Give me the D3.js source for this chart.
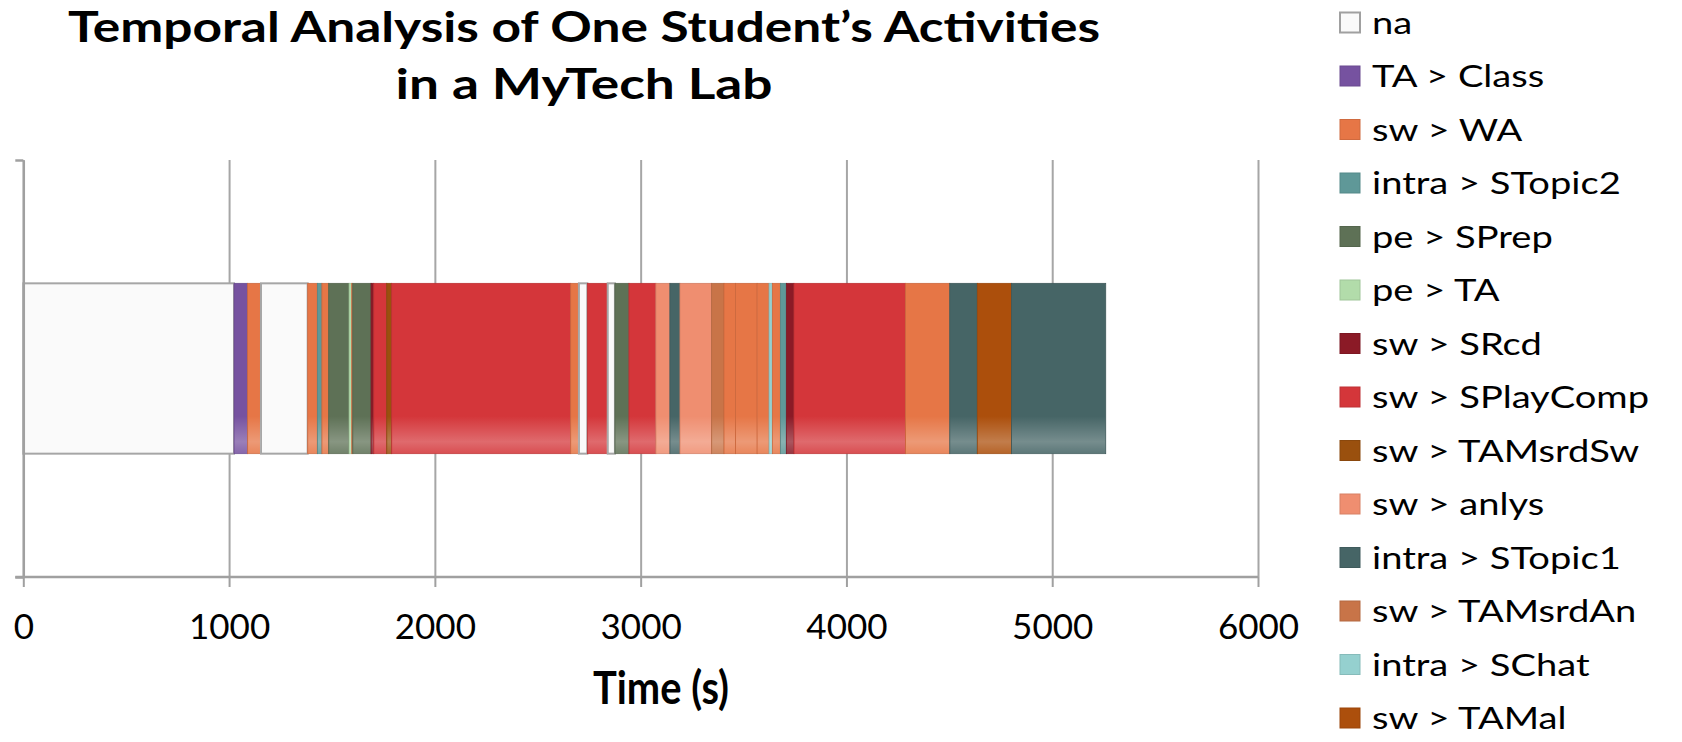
<!DOCTYPE html>
<meta charset="utf-8">
<style>
body { margin: 0; background: #fff; font-family: "Lato", "Open Sans", sans-serif; }
svg text { fill: #000; }
</style>
<body>
<script src="https://cdn.jsdelivr.net/npm/d3@7"></script>
<script>

// activities in the order they happened, with duration in seconds
var segActivity = ["na", "TA > Class", "sw > WA", "na", "sw > WA", "intra > STopic2", "sw > WA",
  "pe > SPrep", "pe > TA", "sw > WA", "pe > SPrep", "sw > SRcd", "sw > SPlayComp", "sw > TAMsrdSw",
  "sw > SPlayComp", "sw > WA", "na", "sw > SPlayComp", "na", "pe > SPrep", "sw > SPlayComp",
  "sw > anlys", "intra > STopic1", "sw > anlys", "sw > TAMsrdAn", "sw > WA", "sw > WA", "sw > WA",
  "intra > SChat", "sw > WA", "intra > STopic2", "sw > SRcd", "sw > SPlayComp", "sw > WA",
  "intra > STopic1", "sw > TAMal", "intra > STopic1"];
var segDuration = [1024, 66, 65, 227, 47, 22, 33,
  99, 13, 5, 89, 13, 63, 24,
  870, 40, 41, 99, 35, 68, 131,
  68, 49, 154, 60, 56, 105, 58,
  16, 39, 29, 37, 542, 215,
  134, 166, 458];

// legend entries and colours
var legendNames = ["na", "TA > Class", "sw > WA", "intra > STopic2", "pe > SPrep", "pe > TA", "sw > SRcd",
  "sw > SPlayComp", "sw > TAMsrdSw", "sw > anlys", "intra > STopic1", "sw > TAMsrdAn", "intra > SChat", "sw > TAMal"];
var legendColors = ["#fafafa", "#7652a0", "#e67646", "#5f9898", "#5e7156", "#b2dcaa", "#8b1a26",
  "#d4363a", "#9a500e", "#ef8e70", "#466566", "#c87448", "#95d0cf", "#ac4f0c"];

var xTicks = [0, 1000, 2000, 3000, 4000, 5000, 6000];

var W = 1682, H = 742;
var svg = d3.select("body").append("svg").attr("width", W).attr("height", H);

var color = d3.scaleOrdinal().domain(legendNames).range(legendColors);

var x = d3.scaleLinear().domain([0, 6000]).range([23.3, 1258]);
var y = d3.scaleBand().domain(["student"]).range([160, 577]).padding(0.42);
var yEdge = d3.scaleLinear().domain([0, 1]).range([577, 160]);

// gloss gradient
var defs = svg.append("defs");
var grad = defs.append("linearGradient").attr("id", "gloss")
  .attr("x1", 0).attr("y1", 0).attr("x2", 0).attr("y2", 1);
grad.append("stop").attr("offset", "0.78").attr("stop-color", "#fff").attr("stop-opacity", 0);
grad.append("stop").attr("offset", "0.93").attr("stop-color", "#fff").attr("stop-opacity", 0.26);
grad.append("stop").attr("offset", "1").attr("stop-color", "#fff").attr("stop-opacity", 0.12);

// gridlines
svg.append("g")
  .attr("transform", "translate(0,577)")
  .call(d3.axisBottom(x).tickValues(xTicks).tickSize(-(577 - 160)).tickFormat(""))
  .call(function (g) {
    g.select(".domain").remove();
    g.selectAll("line").attr("stroke", "#a6a6a6").attr("stroke-width", 2);
  });

// bar segments
var starts = [0].concat(Array.from(d3.cumsum(segDuration))).slice(0, segDuration.length);
var segs = segActivity.map(function (a, i) {
  return { act: a, start: starts[i], end: starts[i] + segDuration[i] };
});

var bar = svg.append("g");
bar.selectAll("rect.seg")
  .data(segs)
  .enter().append("rect")
  .attr("class", "seg")
  .attr("x", function (d) { return x(d.start); })
  .attr("y", y("student"))
  .attr("width", function (d) { return x(d.end) - x(d.start); })
  .attr("height", y.bandwidth())
  .attr("fill", function (d) { return color(d.act); })
  .attr("stroke", function (d) { return d.act == "na" ? "#a6a6a6" : d3.color(color(d.act)).darker(0.35); })
  .attr("stroke-width", function (d) { return d.act == "na" ? 2 : 0.8; });

bar.selectAll("rect.gl")
  .data(segs.filter(function (d) { return d.act != "na"; }))
  .enter().append("rect")
  .attr("class", "gl")
  .attr("x", function (d) { return x(d.start) + 0.5; })
  .attr("y", y("student"))
  .attr("width", function (d) { return Math.max(0, x(d.end) - x(d.start) - 1); })
  .attr("height", y.bandwidth())
  .attr("fill", "url(#gloss)");

// y axis (category edges)
svg.append("g")
  .attr("transform", "translate(" + x(0) + ",0)")
  .call(d3.axisLeft(yEdge).tickValues([0, 1]).tickSize(8).tickSizeOuter(0).tickFormat(""))
  .call(function (g) {
    g.select(".domain").attr("stroke", "#a0a0a0").attr("stroke-width", 2.5);
    g.selectAll("line").attr("stroke", "#a0a0a0").attr("stroke-width", 2.5);
  });

// x axis
var xa = svg.append("g")
  .attr("transform", "translate(0,577)")
  .call(d3.axisBottom(x).tickValues(xTicks).tickSize(10).tickSizeOuter(0).tickFormat(d3.format("d")));
xa.select(".domain").attr("stroke", "#a0a0a0").attr("stroke-width", 2.5).attr("d", "M" + (x(0) - 8) + ",0H" + x(6000));
xa.selectAll("line").attr("stroke", "#a0a0a0").attr("stroke-width", 2);
xa.selectAll("text")
  .attr("y", 62).attr("dy", 0)
  .style("font-family", "Lato, sans-serif")
  .style("font-size", "35px").style("fill", "#000");

// stretch helper to imitate the wide geometric face of the original
function stretch(sel, factor) {
  sel.each(function () {
    var w = this.getComputedTextLength();
    d3.select(this).attr("textLength", w * factor).attr("lengthAdjust", "spacingAndGlyphs");
  });
}

// titles
var title = svg.append("g").style("font-family", "Lato, sans-serif").style("font-weight", "bold")
  .style("font-size", "42px").attr("text-anchor", "middle");
title.append("text").attr("x", 584).attr("y", 42).text("Temporal Analysis of One Student\u2019s Activities")
  .attr("textLength", 1032).attr("lengthAdjust", "spacingAndGlyphs");
title.append("text").attr("x", 584).attr("y", 99).text("in a MyTech Lab")
  .attr("textLength", 377).attr("lengthAdjust", "spacingAndGlyphs");

svg.append("text")
  .attr("x", 661).attr("y", 704).attr("text-anchor", "middle")
  .style("font-family", "Lato, sans-serif").style("font-weight", "bold").style("font-size", "46px")
  .attr("textLength", 136).attr("lengthAdjust", "spacingAndGlyphs")
  .text("Time (s)");

// legend
var leg = svg.append("g").attr("transform", "translate(1340,0)");
var item = leg.selectAll("g")
  .data(legendNames)
  .enter().append("g")
  .attr("transform", function (d, i) { return "translate(0," + (22.5 + i * 53.5) + ")"; });
item.append("rect")
  .attr("x", 0).attr("y", -10).attr("width", 20).attr("height", 20)
  .attr("fill", function (d) { return color(d); })
  .attr("stroke", function (d) { return d == "na" ? "#a0a0a0" : d3.color(color(d)).darker(0.3); })
  .attr("stroke-width", function (d) { return d == "na" ? 2 : 1; });
var legText = item.append("text")
  .attr("x", 32).attr("y", 0).attr("dy", "0.36em")
  .style("font-family", "Lato, sans-serif").style("font-size", "31px")
  .text(function (d) { return d; });
var sample = legText.filter(function (d) { return d == "sw > SPlayComp"; }).node();
stretch(legText, 277 / sample.getComputedTextLength());

</script>
</body>
